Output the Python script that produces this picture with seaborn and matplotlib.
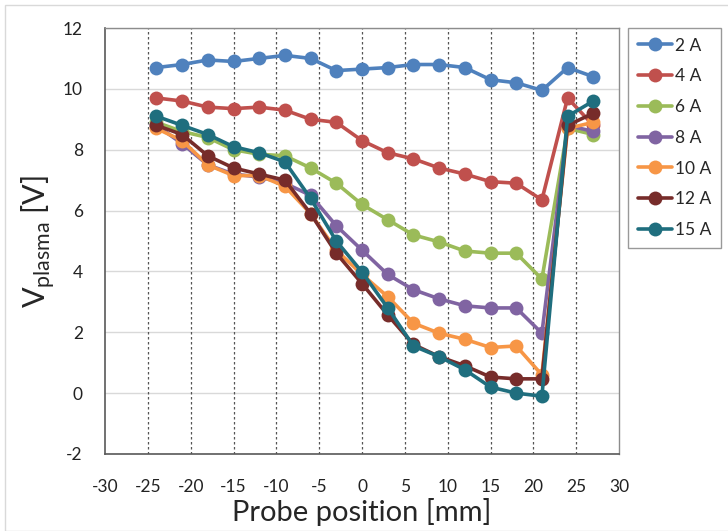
import numpy as np
import pandas as pd
import seaborn as sns
import matplotlib
matplotlib.use("Agg")
import matplotlib.pyplot as plt
from matplotlib.patches import Rectangle

positions = [-24, -21, -18, -15, -12, -9, -6, -3, 0, 3, 6, 9, 12, 15, 18, 21, 24, 27]
labels = ["2 A", "4 A", "6 A", "8 A", "10 A", "12 A", "15 A"]
v_2A = [10.7, 10.8, 10.95, 10.9, 11.0, 11.1, 11.0, 10.6, 10.65, 10.7, 10.8, 10.8, 10.7, 10.3, 10.2, 9.95, 10.7, 10.4]
v_4A = [9.7, 9.6, 9.4, 9.35, 9.4, 9.3, 9.0, 8.9, 8.3, 7.9, 7.7, 7.4, 7.2, 6.95, 6.9, 6.35, 9.7, 8.8]
v_6A = [8.9, 8.6, 8.4, 8.0, 7.85, 7.8, 7.4, 6.9, 6.2, 5.7, 5.2, 4.97, 4.67, 4.6, 4.6, 3.75, 8.7, 8.5]
v_8A = [8.8, 8.2, 7.5, 7.2, 7.1, 6.9, 6.5, 5.5, 4.7, 3.9, 3.4, 3.1, 2.87, 2.8, 2.8, 1.97, 8.8, 8.6]
v_10A = [8.7, 8.3, 7.5, 7.15, 7.15, 6.8, 5.9, 4.7, 3.9, 3.17, 2.3, 1.97, 1.77, 1.5, 1.55, 0.6, 8.7, 8.9]
v_12A = [8.8, 8.5, 7.8, 7.4, 7.2, 7.0, 5.9, 4.6, 3.6, 2.57, 1.6, 1.2, 0.9, 0.53, 0.47, 0.47, 8.8, 9.2]
v_15A = [9.1, 8.8, 8.5, 8.1, 7.9, 7.6, 6.4, 5.0, 3.98, 2.8, 1.55, 1.2, 0.77, 0.2, 0.0, -0.1, 9.1, 9.6]
series = [v_2A, v_4A, v_6A, v_8A, v_10A, v_12A, v_15A]
colors = ["#4F81BD", "#C0504D", "#9BBB59", "#8064A2", "#F79646", "#772C2A", "#1F6E7E"]

rows = []
for lab, vals in zip(labels, series):
    for p, v in zip(positions, vals):
        rows.append({"pos": p, "V": v, "I": lab})
df = pd.DataFrame(rows)

sns.set_style("white")
plt.rcParams["font.family"] = ["Lato", "DejaVu Sans"]
plt.rcParams["mathtext.fontset"] = "custom"
plt.rcParams["mathtext.rm"] = "Lato"
plt.rcParams["axes.unicode_minus"] = False

fig = plt.figure(figsize=(7.28, 5.31), dpi=100)
ax = fig.add_axes([105 / 728, 1 - 454 / 531, (619 - 105) / 728, (454 - 28) / 531])

# grid
for yv in range(-2, 13, 2):
    ax.axhline(yv, color="#D9D9D9", lw=1, zorder=0)
for xv in range(-25, 26, 5):
    ax.axvline(xv, color="#555555", lw=0.9, ls=(0, (2, 2)), zorder=0)

sns.lineplot(data=df, x="pos", y="V", hue="I", hue_order=labels, palette=colors,
             marker="o", markersize=10, markeredgewidth=0, linewidth=2.6, ax=ax,
             legend=True)

ax.set_xlim(-30, 30)
ax.set_ylim(-2, 12)
ax.set_xticks(range(-30, 31, 5))
ax.set_yticks(range(-2, 13, 2))
ax.tick_params(axis="both", labelsize=12.5, colors="#222222", length=4, width=1)
ax.tick_params(axis="x", direction="in", length=0, pad=18)
ax.tick_params(axis="y", direction="in", length=5, pad=16)
ax.set_xlabel("Probe position [mm]", fontsize=21, labelpad=2)
ax.set_ylabel(r"V$_{\mathregular{plasma}}$ [V]", fontsize=22, labelpad=4)
for s in ["left", "bottom"]:
    ax.spines[s].set_color("#595959")
    ax.spines[s].set_linewidth(1.2)
for s in ["top", "right"]:
    ax.spines[s].set_color("#8C8C8C")
    ax.spines[s].set_linewidth(1.0)

handles, labs = ax.get_legend_handles_labels()
leg = ax.legend(handles, labs, loc="upper left", bbox_to_anchor=(628 / 728, 1 - 28 / 531),
                bbox_transform=fig.transFigure, frameon=True, fancybox=False,
                fontsize=12.5, handlelength=2.0, labelspacing=0.85, borderpad=0.55,
                handletextpad=0.15, borderaxespad=0)
leg.get_frame().set_edgecolor("#808080")
leg.get_frame().set_linewidth(1.0)

fig.patches.append(Rectangle((5 / 728, 0), 1, 1 - 5 / 531, transform=fig.transFigure,
                             fill=False, edgecolor="#D9D9D9", lw=1))

fig.savefig("out.png", dpi=100)
